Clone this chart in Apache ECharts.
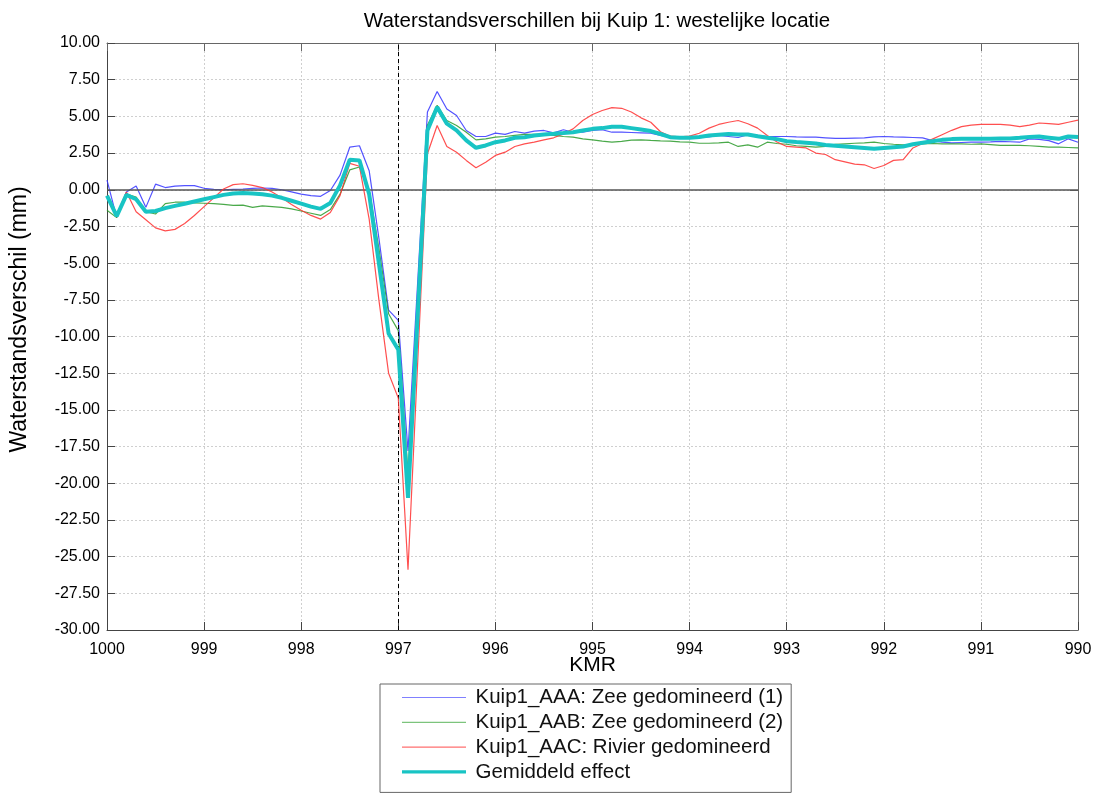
<!DOCTYPE html>
<html><head><meta charset="utf-8">
<script src="https://cdn.jsdelivr.net/npm/echarts@6/dist/echarts.min.js"></script>
<style>html,body{margin:0;padding:0;background:#fff}#c{width:1100px;height:795px}</style>
</head><body><div id="c"></div>
<script>
// KMR sample positions: 1000.0 down to 990.0 every 0.1 km
const kmStart = 1000, kmStep = 0.1, kmCount = 101;
const kmr = Array.from({length: kmCount}, (_, i) => +(kmStart - i * kmStep).toFixed(1));

const seriesNames = [
  'Kuip1_AAA: Zee gedomineerd (1)',
  'Kuip1_AAB: Zee gedomineerd (2)',
  'Kuip1_AAC: Rivier gedomineerd',
  'Gemiddeld effect'
];

const aaa = [
  0.65, -1.9, -0.15, 0.25, -1.2, 0.38, 0.15, 0.25, 0.28, 0.28,
  0.1, 0.02, 0.0, 0.03, 0.05, 0.1, 0.12, 0.1, 0.0, -0.15,
  -0.3, -0.4, -0.45, -0.05, 1.0, 2.9, 3.0, 1.3, -3.3, -8.2,
  -8.9, -17.8, -6.25, 5.3, 6.7, 5.5, 5.06, 4.04, 3.63, 3.63,
  3.86, 3.77, 3.97, 3.86, 3.99, 4.04, 3.88, 4.09, 3.92, 3.92,
  4.04, 4.09, 3.92, 3.92, 3.9, 3.88, 3.86, 3.7, 3.58, 3.6,
  3.63, 3.56, 3.6, 3.7, 3.63, 3.56, 3.75, 3.7, 3.63, 3.63,
  3.63, 3.6, 3.58, 3.58, 3.54, 3.5, 3.5, 3.52, 3.54, 3.6,
  3.63, 3.6, 3.58, 3.56, 3.54, 3.35, 3.24, 3.2, 3.22, 3.24,
  3.24, 3.26, 3.3, 3.27, 3.24, 3.47, 3.43, 3.35, 3.13, 3.47, 3.24
];
const aab = [
  -1.4, -1.9, -0.3, -0.5, -1.5, -1.65, -0.95, -0.85, -0.85, -0.9,
  -0.92, -0.95, -1.0, -1.07, -1.05, -1.2, -1.1, -1.15, -1.2, -1.3,
  -1.45, -1.6, -1.75, -1.35, -0.3, 1.35, 1.55, 0.0, -4.0, -8.45,
  -9.6, -19.3, -7.45, 4.4, 5.75, 4.72, 4.38, 3.92, 3.4, 3.47,
  3.58, 3.63, 3.7, 3.77, 3.77, 3.77, 3.7, 3.63, 3.58, 3.47,
  3.4, 3.31, 3.24, 3.3, 3.38, 3.4, 3.36, 3.33, 3.31, 3.26,
  3.24, 3.17, 3.17, 3.2, 3.24, 2.95, 3.06, 2.9, 3.24, 3.15,
  3.1, 3.0, 2.95, 2.9, 2.95, 3.09, 3.13, 3.17, 3.2, 3.24,
  3.15, 3.1, 3.06, 3.1, 3.13, 3.15, 3.13, 3.13, 3.13, 3.1,
  3.13, 3.08, 3.02, 3.02, 3.02, 3.0, 2.95, 2.9, 2.9, 2.88, 2.86
];
const aac = [
  -0.4, -1.7, -0.15, -1.5, -2.05, -2.6, -2.8, -2.7, -2.3, -1.75,
  -1.15, -0.55, 0.05, 0.35, 0.41, 0.3, 0.15, -0.15, -0.55, -1.0,
  -1.4, -1.75, -2.0, -1.55, -0.4, 1.8, 1.6, -2.0, -7.5, -12.5,
  -14.2, -25.9, -11.7, 2.45, 4.38, 2.95, 2.56, 2.0, 1.5, 1.88,
  2.34, 2.56, 2.95, 3.13, 3.24, 3.4, 3.54, 3.81, 4.15, 4.72,
  5.13, 5.4, 5.6, 5.55, 5.3, 4.9, 4.6, 3.95, 3.65, 3.6,
  3.65, 3.85, 4.2, 4.45, 4.6, 4.72, 4.5, 4.2, 3.7, 3.25,
  2.95, 2.9, 2.85, 2.5, 2.4, 2.05, 1.9, 1.75, 1.7, 1.45,
  1.65, 2.0, 2.05, 2.85, 3.15, 3.45, 3.75, 4.05, 4.3, 4.4,
  4.45, 4.45, 4.45, 4.4, 4.3, 4.4, 4.55, 4.5, 4.45, 4.6, 4.75
];
const gemiddeld = [
  -0.4, -1.8, -0.35, -0.65, -1.5, -1.45, -1.25, -1.1, -0.95, -0.8,
  -0.65, -0.5, -0.35, -0.25, -0.22, -0.25, -0.3, -0.4, -0.55, -0.75,
  -0.95, -1.15, -1.3, -0.9, 0.3, 2.05, 2.0, -0.3, -5.0, -9.8,
  -10.9, -21.0, -8.5, 4.04, 5.63, 4.5, 4.04, 3.36, 2.86, 3.02,
  3.24, 3.36, 3.54, 3.58, 3.7, 3.77, 3.81, 3.86, 3.92, 4.04,
  4.15, 4.2, 4.3, 4.3, 4.2, 4.1, 4.0, 3.8, 3.58, 3.55,
  3.54, 3.6, 3.7, 3.75, 3.8, 3.77, 3.77, 3.65, 3.54, 3.45,
  3.31, 3.25, 3.2, 3.15, 3.05, 3.0, 2.95, 2.9, 2.85, 2.8,
  2.85, 2.9, 2.95, 3.1, 3.2, 3.3, 3.4, 3.45, 3.47, 3.47,
  3.47, 3.47, 3.5, 3.5, 3.54, 3.6, 3.63, 3.55, 3.47, 3.63, 3.6
];

const xMin = 990, xMax = 1000, xInterval = 1;
const yMin = -30, yMax = 10, yInterval = 2.5;
const refKm = 997;   // dashed vertical reference
const refLevel = 0;  // zero line

const FONT = 'Liberation Sans, Arial, Helvetica, sans-serif';
const colors = ['#3535ff', '#2a9a2a', '#ff3030', '#18c4c4'];
const legendColors = ['#8080ff', '#7cc47c', '#ff7070', '#18c4c4'];
const widths = [1.2, 1.2, 1.2, 4];
const values = [aaa, aab, aac, gemiddeld];
// legend line icons (thin / thick), with invisible extents to keep the bar thin
const thinIcon = 'path://M0,0 L0.01,0 L0,0.01 Z M0,5.4 L64,5.4 L64,6.6 L0,6.6 Z M0,12 L0.01,12 L0,11.99 Z';
const thickIcon = 'path://M0,0 L0.01,0 L0,0.01 Z M0,4.3 L64,4.3 L64,7.7 L0,7.7 Z M0,12 L0.01,12 L0,11.99 Z';

const chart = echarts.init(document.getElementById('c'), null, {renderer: 'canvas'});

const series = values.map((vals, s) => ({
  name: seriesNames[s],
  type: 'line',
  xAxisIndex: 0, yAxisIndex: 0,
  data: kmr.map((k, i) => [k, vals[i]]),
  showSymbol: false,
  symbol: 'none',
  animation: false,
  z: 3 + s,
  color: colors[s],
  lineStyle: {color: colors[s], width: widths[s], opacity: s === 3 ? 1 : 0.85}
}));

series.unshift({
  name: 'ref',
  type: 'line',
  xAxisIndex: 0, yAxisIndex: 0,
  data: [],
  z: 2,
  markLine: {
    silent: true,
    symbol: ['none', 'none'],
    animation: false,
    label: {show: false},
    data: [
      {yAxis: refLevel, lineStyle: {color: '#555', width: 1.6, type: 'solid'}},
      {xAxis: refKm, lineStyle: {color: '#000', width: 1, type: [4, 3]}}
    ]
  }
});

const option = {
  animation: false,
  backgroundColor: '#fff',
  textStyle: {fontFamily: FONT},
  title: {
    text: 'Waterstandsverschillen bij Kuip 1: westelijke locatie',
    left: 592, textAlign: 'center', top: 6,
    textStyle: {fontSize: 20.5, fontWeight: 'normal', color: '#000', fontFamily: FONT}
  },
  grid: {left: 106, right: 22, top: 43, bottom: 165, containLabel: false},
  legend: {
    data: seriesNames.map((n, s) => ({
      name: n,
      icon: s === 3 ? thickIcon : thinIcon,
      itemStyle: {color: legendColors[s], borderWidth: 0}
    })),
    orient: 'vertical',
    left: 380, top: 684,
    itemWidth: 65, itemHeight: 12,
    itemGap: 3.8,
    padding: [3, 8, 10, 22],
    borderColor: '#666', borderWidth: 1,
    backgroundColor: '#fff',
    textStyle: {fontSize: 20.5, lineHeight: 20, color: '#111', fontFamily: FONT,
      padding: [0, 0, 0, 4]}
  },
  xAxis: [{
    type: 'value', min: xMin, max: xMax, interval: xInterval, inverse: true,
    position: 'bottom',
    name: 'KMR', nameLocation: 'middle', nameGap: 25, nameMoveOverlap: false,
    nameTextStyle: {fontSize: 21, color: '#000', fontFamily: FONT},
    axisLine: {show: true, onZero: false, lineStyle: {color: '#444', width: 1}},
    axisTick: {show: true, inside: true, length: 8, lineStyle: {color: '#444'}},
    axisLabel: {fontSize: 16, color: '#000', margin: 12, fontFamily: FONT,
      formatter: v => String(v)},
    splitLine: {show: true, lineStyle: {color: '#cfcfcf', type: [2, 2], width: 1}}
  }, {
    type: 'value', min: xMin, max: xMax, interval: xInterval, inverse: true,
    position: 'top',
    axisLine: {show: true, onZero: false, lineStyle: {color: '#666', width: 1}},
    axisTick: {show: true, inside: true, length: 8, lineStyle: {color: '#666'}},
    axisLabel: {show: false},
    splitLine: {show: false}
  }],
  yAxis: [{
    type: 'value', min: yMin, max: yMax, interval: yInterval,
    position: 'left',
    name: 'Waterstandsverschil (mm)', nameLocation: 'middle', nameGap: 76,
    nameTextStyle: {fontSize: 23, color: '#000', fontFamily: FONT, padding: [0, 0, 0, 34]},
    axisLine: {show: true, onZero: false, lineStyle: {color: '#444', width: 1}},
    axisTick: {show: true, inside: true, length: 8, lineStyle: {color: '#444'}},
    axisLabel: {fontSize: 16, color: '#000', margin: 7, fontFamily: FONT,
      formatter: v => v.toFixed(2)},
    splitLine: {show: true, lineStyle: {color: '#cfcfcf', type: [2, 2], width: 1}}
  }, {
    type: 'value', min: yMin, max: yMax, interval: yInterval,
    position: 'right',
    axisLine: {show: true, onZero: false, lineStyle: {color: '#666', width: 1}},
    axisTick: {show: true, inside: true, length: 8, lineStyle: {color: '#666'}},
    axisLabel: {show: false},
    splitLine: {show: false}
  }],
  series: series
};
chart.setOption(option);
</script>
</body></html>
